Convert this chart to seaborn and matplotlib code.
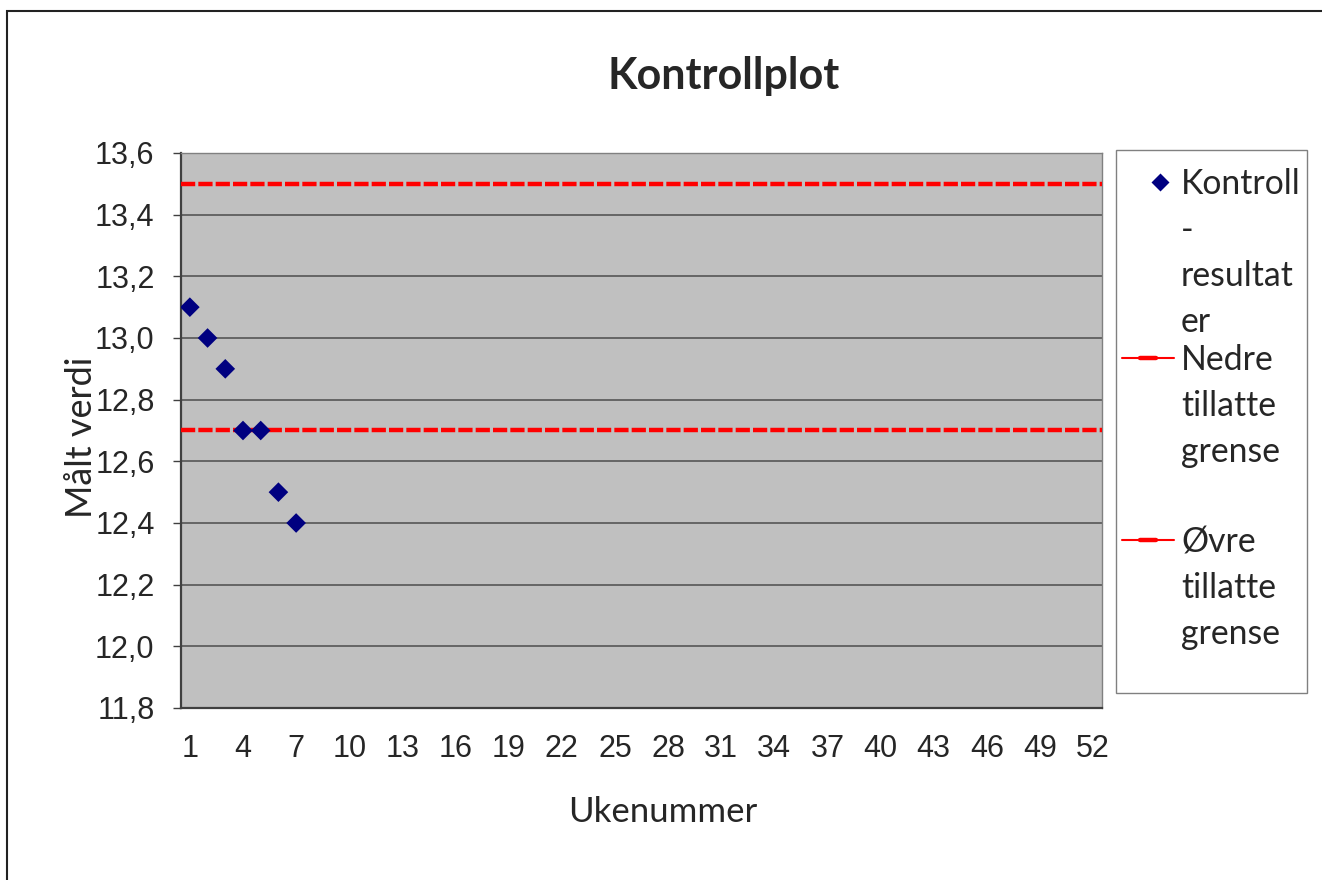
import matplotlib.pyplot as plt
import pandas as pd
import seaborn as sns
from matplotlib.lines import Line2D
from matplotlib.patches import Rectangle

# data
weeks = [1, 2, 3, 4, 5, 6, 7]
results = [13.1, 13.0, 12.9, 12.7, 12.7, 12.5, 12.4]
lower_limit = 12.7
upper_limit = 13.5
n_weeks = 52
week_labels = list(range(1, n_weeks + 1, 3))
y_ticks = [11.8, 12.0, 12.2, 12.4, 12.6, 12.8, 13.0, 13.2, 13.4, 13.6]

legend_lines = [
    ["Kontroll", "-", "resultat", "er"],
    ["Nedre", "tillatte", "grense"],
    ["Øvre", "tillatte", "grense"],
]

W, H = 1322, 880


def fx(px):
    return px / W


def fy(py):
    return 1 - py / H


sns.set_theme(style="white")
plt.rcParams["font.family"] = ["Lato", "DejaVu Sans"]

fig = plt.figure(figsize=(W / 100, H / 100), dpi=100)
fig.patch.set_facecolor("white")
ax = fig.add_axes([fx(181), fy(708), fx(1102) - fx(181), fy(153) - fy(708)])
ax.set_facecolor("#c0c0c0")

df = pd.DataFrame({"Uke": weeks, "Verdi": results})
sns.scatterplot(data=df, x="Uke", y="Verdi", marker="D", s=100, color="#000080",
                edgecolor="none", ax=ax, zorder=5, legend=False)
for lim in (lower_limit, upper_limit):
    ax.axhline(lim, color="red", lw=3.2, dashes=(3.2, 0.7), zorder=4)

ax.set_xlim(0.5, n_weeks + 0.5)
ax.set_ylim(y_ticks[0], y_ticks[-1])
ax.set_yticks(y_ticks)
ax.set_yticklabels([f"{v:.1f}".replace(".", ",") for v in y_ticks],
                   family="Liberation Sans", fontsize=22)
ax.set_xticks(week_labels)
ax.set_xticklabels([str(w) for w in week_labels], family="Liberation Sans", fontsize=22)
ax.set_xticks([w - 0.5 for w in range(1, n_weeks + 2)], minor=True)
ax.tick_params(axis="x", which="major", length=0, pad=19)
ax.tick_params(axis="x", which="minor", length=6, width=1, color="#404040", direction="out")
ax.tick_params(axis="y", which="major", length=6, width=1, color="#404040",
               direction="out", pad=13, left=True)
ax.yaxis.grid(True, color="#4d4d4d", lw=1.1)
ax.set_axisbelow(True)

for side in ("left", "bottom"):
    ax.spines[side].set_color("#404040")
    ax.spines[side].set_linewidth(1.6)
for side in ("top", "right"):
    ax.spines[side].set_color("#808080")
    ax.spines[side].set_linewidth(1.0)

ax.set_xlabel("Ukenummer", fontsize=25)
ax.xaxis.set_label_coords(0.5233, -0.158)
ax.set_ylabel("Målt verdi", fontsize=26)
ax.yaxis.set_label_coords(-0.090, 0.487)

fig.text(fx(724), fy(76), "Kontrollplot", fontsize=31, fontweight="bold",
         ha="center", va="center")

# legend box drawn the way the spreadsheet lays it out
fig.add_artist(Rectangle((fx(1116), fy(693)), fx(1307) - fx(1116), fy(150) - fy(693),
                         transform=fig.transFigure, facecolor="white",
                         edgecolor="#808080", lw=1.0))
block_baselines = [194, 370, 552]
pitch = 46
for block, base in zip(legend_lines, block_baselines):
    for i, line in enumerate(block):
        fig.text(fx(1181), fy(base + i * pitch), line, fontsize=24.3, ha="left", va="baseline")
fig.add_artist(Line2D([fx(1160)], [fy(block_baselines[0] - 12)], marker="D", ms=9.5,
                      color="#000080", mec="none", transform=fig.transFigure))
for base in block_baselines[1:]:
    fig.add_artist(Line2D([fx(1122), fx(1174)], [fy(base - 12)] * 2, color="red",
                          lw=1.5, transform=fig.transFigure))
    fig.add_artist(Line2D([fx(1140), fx(1156)], [fy(base - 12)] * 2, color="red",
                          lw=3.2, transform=fig.transFigure))

# outer chart frame
fig.add_artist(Rectangle((fx(7), -0.1), 1.2, fy(11) + 0.1, transform=fig.transFigure,
                         fill=False, edgecolor="#222222", lw=1.5))

fig.savefig("out.png", dpi=100)
